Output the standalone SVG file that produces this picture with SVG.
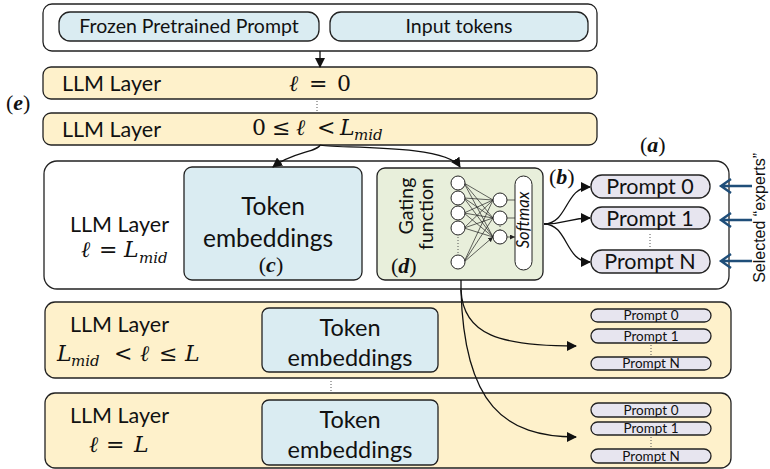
<svg xmlns="http://www.w3.org/2000/svg" width="770" height="469" viewBox="0 0 770 469">
<defs>
<style>
.box{stroke:#222;stroke-width:1.3}
.white{fill:#fff}
.yel{fill:#fef1cb}
.blue{fill:#daecf2}
.green{fill:#e8efdb}
.lav{fill:#e7e5ef}
.t{font-family:Lato,"Open Sans","Liberation Sans",sans-serif;fill:#111}
.m{font-family:"DejaVu Serif","Liberation Serif",serif;fill:#111;font-size:22px}
.i{font-style:italic}
.sub{font-style:italic;font-size:15px}
.lbl{font-family:"Liberation Serif",serif;fill:#111;font-size:22px}
.lbl tspan{font-weight:bold;font-style:italic}
.c{fill:none;stroke:#111;stroke-width:1.3}
.nn{fill:none;stroke:#222;stroke-width:0.7}
.dot{stroke:#555;stroke-width:1;stroke-dasharray:1 2}
.bl{fill:none;stroke:#1f4e79;stroke-width:2.4}
</style>
<marker id="ah" markerWidth="10" markerHeight="10" refX="9" refY="5" orient="auto" markerUnits="userSpaceOnUse">
<path d="M0,0 L10,5 L0,10 z" fill="#111"/>
</marker>
<marker id="sm" markerWidth="5" markerHeight="5" refX="5" refY="2.5" orient="auto" markerUnits="userSpaceOnUse">
<path d="M0,0 L5,2.5 L0,5 z" fill="#222"/>
</marker>
</defs>

<g id="input">
<rect class="box white" x="43" y="4" width="554" height="47" rx="9"/>
<rect class="box blue" x="59" y="12" width="260" height="29" rx="11"/>
<text class="t" x="189" y="33" font-size="19.5" text-anchor="middle">Frozen Pretrained Prompt</text>
<rect class="box blue" x="330" y="12" width="258" height="29" rx="11"/>
<text class="t" x="459" y="33" font-size="19.5" text-anchor="middle">Input tokens</text>
</g>

<g id="layer0">
<rect class="box yel" x="43" y="67" width="554" height="32" rx="8"/>
<text class="t" x="62" y="91" font-size="21.5">LLM Layer</text>
<text class="m" y="91"><tspan class="i" x="289">ℓ</tspan><tspan x="309">=</tspan><tspan x="337">0</tspan></text>
</g>
<line class="dot" x1="317" y1="101" x2="317" y2="111"/>
<text class="lbl" x="6" y="110">(<tspan>e</tspan>)</text>

<g id="layer-pre">
<rect class="box yel" x="43" y="113" width="554" height="32" rx="8"/>
<text class="t" x="62" y="137" font-size="21.5">LLM Layer</text>
<text class="m" y="135"><tspan x="252">0</tspan><tspan x="272">≤</tspan><tspan class="i" x="296">ℓ</tspan><tspan x="317">&lt;</tspan><tspan class="i" x="340">L</tspan><tspan class="sub" x="354" dy="5">mid</tspan></text>
</g>

<g id="layer-mid">
<rect class="box white" x="44" y="161" width="685" height="128" rx="13"/>
<text class="t" x="70" y="232" font-size="21.5">LLM Layer</text>
<text class="m" y="257"><tspan class="i" x="81">ℓ</tspan><tspan x="99">=</tspan><tspan class="i" x="124">L</tspan><tspan class="sub" x="139" dy="6">mid</tspan></text>
</g>

<g id="token-emb-mid">
<rect class="box blue" x="184" y="167" width="178" height="113" rx="8"/>
<text class="t" x="273" y="215" font-size="24.5" text-anchor="middle">Token</text>
<text class="t" x="268" y="247" font-size="24.5" text-anchor="middle">embeddings</text>
<text class="lbl" x="271" y="272" text-anchor="middle">(<tspan>c</tspan>)</text>
</g>

<g id="gating">
<rect class="box green" x="377" y="168" width="166" height="112" rx="8"/>
<text class="t" font-size="19.5" text-anchor="middle" transform="translate(413,206) rotate(-90)">Gating</text>
<text class="t" font-size="19.5" text-anchor="middle" transform="translate(433,214) rotate(-90)">function</text>
<text class="lbl" x="391" y="273">(<tspan>d</tspan>)</text>
<g class="nn">
<path d="M464,183 L493,200 M464,183 L493,218 M464,183 L493,237 M464,198 L493,200 M464,198 L493,218 M464,198 L493,237 M464,213 L493,200 M464,213 L493,218 M464,213 L493,237 M464,228 L493,200 M464,228 L493,218 M464,228 L493,237 M464,262 L493,200 M464,262 L493,218 M464,262 L493,237" marker-end="url(#sm)"/>
<path d="M507,200 L515,200 M507,218 L515,218 M507,237 L515,237" marker-end="url(#sm)"/>
</g>
<g fill="#fff" stroke="#222" stroke-width="1">
<circle cx="458" cy="183" r="7"/>
<circle cx="458" cy="198" r="7"/>
<circle cx="458" cy="213" r="7"/>
<circle cx="458" cy="228" r="7"/>
<circle cx="458" cy="262" r="7"/>
<circle cx="500" cy="200" r="7"/>
<circle cx="500" cy="218" r="7"/>
<circle cx="500" cy="237" r="7"/>
</g>
<line class="dot" x1="458" y1="237" x2="458" y2="254"/>
<line class="dot" x1="500" y1="226" x2="500" y2="230"/>
<rect x="515" y="176" width="17" height="94" rx="8.5" fill="#fff" stroke="#222" stroke-width="1"/>
<text class="t" font-size="16.5" font-style="italic" text-anchor="middle" transform="translate(529,220) rotate(-90)">Softmax</text>
</g>

<text class="lbl" x="549" y="184">(<tspan>b</tspan>)</text>
<text class="lbl" x="640" y="152">(<tspan>a</tspan>)</text>

<g id="prompts-mid">
<rect class="box lav" x="591" y="175" width="119" height="23" rx="11"/>
<text class="t" x="650" y="194" font-size="21.5" text-anchor="middle">Prompt 0</text>
<rect class="box lav" x="591" y="207" width="119" height="22" rx="11"/>
<text class="t" x="650" y="225.5" font-size="21.5" text-anchor="middle">Prompt 1</text>
<line class="dot" x1="650" y1="234" x2="650" y2="247"/>
<rect class="box lav" x="591" y="250" width="119" height="23" rx="11"/>
<text class="t" x="650" y="269" font-size="21.5" text-anchor="middle">Prompt N</text>
</g>

<text font-family="'Liberation Sans',Arial,sans-serif" font-size="16" fill="#111" text-anchor="end" transform="translate(765,153) rotate(-90)">Selected “experts”</text>

<g id="layer-post">
<rect class="box yel" x="45" y="302" width="686" height="76" rx="10"/>
<text class="t" x="70" y="332" font-size="21.5">LLM Layer</text>
<text class="m" y="361"><tspan class="i" x="57">L</tspan><tspan class="sub" x="71" dy="5">mid</tspan><tspan x="114" dy="-5">&lt;</tspan><tspan class="i" x="140">ℓ</tspan><tspan x="159">≤</tspan><tspan class="i" x="185">L</tspan></text>
<rect class="box blue" x="262" y="308" width="176" height="64" rx="7"/>
<text class="t" x="350" y="336" font-size="23.5" text-anchor="middle">Token</text>
<text class="t" x="350" y="366" font-size="23.5" text-anchor="middle">embeddings</text>
<rect class="box lav" x="591" y="309" width="120" height="13" rx="6.5"/>
<text class="t" x="651" y="320" font-size="13.5" text-anchor="middle">Prompt 0</text>
<rect class="box lav" x="591" y="329" width="120" height="14" rx="7"/>
<text class="t" x="651" y="340.5" font-size="13.5" text-anchor="middle">Prompt 1</text>
<line class="dot" x1="651" y1="345" x2="651" y2="355"/>
<rect class="box lav" x="591" y="357" width="120" height="13" rx="6.5"/>
<text class="t" x="651" y="368" font-size="13.5" text-anchor="middle">Prompt N</text>
</g>
<line class="dot" x1="331" y1="381" x2="331" y2="391"/>

<g id="layer-last">
<rect class="box yel" x="45" y="393" width="686" height="75" rx="10"/>
<text class="t" x="70" y="423" font-size="21.5">LLM Layer</text>
<text class="m" y="452"><tspan class="i" x="89">ℓ</tspan><tspan x="106">=</tspan><tspan class="i" x="134">L</tspan></text>
<rect class="box blue" x="262" y="400" width="176" height="65" rx="7"/>
<text class="t" x="350" y="428" font-size="23.5" text-anchor="middle">Token</text>
<text class="t" x="350" y="458" font-size="23.5" text-anchor="middle">embeddings</text>
<rect class="box lav" x="591" y="403" width="120" height="14" rx="7"/>
<text class="t" x="651" y="414.5" font-size="13.5" text-anchor="middle">Prompt 0</text>
<rect class="box lav" x="591" y="422" width="120" height="13" rx="6.5"/>
<text class="t" x="651" y="433" font-size="13.5" text-anchor="middle">Prompt 1</text>
<line class="dot" x1="651" y1="437" x2="651" y2="447"/>
<rect class="box lav" x="591" y="449" width="120" height="14" rx="7"/>
<text class="t" x="651" y="460.5" font-size="13.5" text-anchor="middle">Prompt N</text>
</g>

<g id="connectors">
<path class="c" d="M320,51 L320,67" marker-end="url(#ah)"/>
<path class="c" d="M320,145 C318,152 292,152 273,167" marker-end="url(#ah)"/>
<path class="c" d="M320,145 C330,149 445,143 460,167" marker-end="url(#ah)"/>
<path class="c" d="M544,224 C568,224 565,187 590,187" marker-end="url(#ah)"/>
<path class="c" d="M544,224 C568,224 568,218 590,218" marker-end="url(#ah)"/>
<path class="c" d="M544,224 C568,224 565,262 590,262" marker-end="url(#ah)"/>
<path class="c" d="M461,280 L461,290 C463,335 500,346 576,346" marker-end="url(#ah)"/>
<path class="c" d="M461,290 C464,405 505,437 576,437" marker-end="url(#ah)"/>
<path class="bl" d="M752,186 L721,186 M731,179 L721,186 L731,193"/>
<path class="bl" d="M752,220 L721,220 M731,213 L721,220 L731,227"/>
<path class="bl" d="M752,261 L721,261 M731,254 L721,261 L731,268"/>
</g>
</svg>
